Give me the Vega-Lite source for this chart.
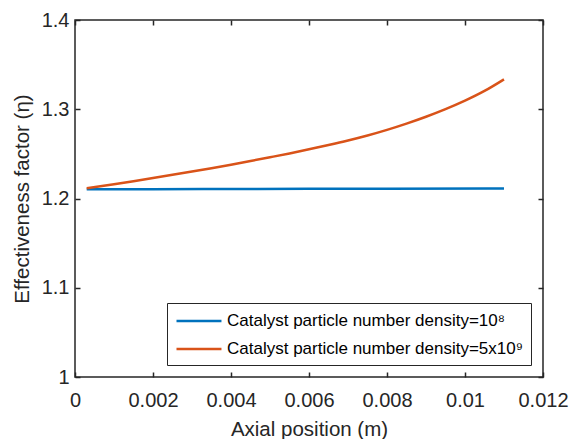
{
  "$schema": "https://vega.github.io/schema/vega-lite/v6.json",
  "width": 468,
  "height": 357,
  "autosize": {"type": "none"},
  "padding": {"left": 75, "top": 20, "right": 28, "bottom": 62},
  "background": "white",
  "config": {"font": "Liberation Sans", "view": {"stroke": "#262626", "strokeWidth": 1.5}},
  "data": {
    "values": [
      {"x": 0.0003, "y": 1.2103, "series": "Catalyst particle number density=10⁸"},
      {"x": 0.002, "y": 1.2105, "series": "Catalyst particle number density=10⁸"},
      {"x": 0.004, "y": 1.2107, "series": "Catalyst particle number density=10⁸"},
      {"x": 0.006, "y": 1.2109, "series": "Catalyst particle number density=10⁸"},
      {"x": 0.008, "y": 1.2110, "series": "Catalyst particle number density=10⁸"},
      {"x": 0.011, "y": 1.2112, "series": "Catalyst particle number density=10⁸"},
      {"x": 0.0003, "y": 1.2114, "series": "Catalyst particle number density=5x10⁹"},
      {"x": 0.001, "y": 1.2160, "series": "Catalyst particle number density=5x10⁹"},
      {"x": 0.0015, "y": 1.2194, "series": "Catalyst particle number density=5x10⁹"},
      {"x": 0.002, "y": 1.2229, "series": "Catalyst particle number density=5x10⁹"},
      {"x": 0.0025, "y": 1.2265, "series": "Catalyst particle number density=5x10⁹"},
      {"x": 0.003, "y": 1.2302, "series": "Catalyst particle number density=5x10⁹"},
      {"x": 0.0035, "y": 1.2340, "series": "Catalyst particle number density=5x10⁹"},
      {"x": 0.004, "y": 1.2379, "series": "Catalyst particle number density=5x10⁹"},
      {"x": 0.0045, "y": 1.2420, "series": "Catalyst particle number density=5x10⁹"},
      {"x": 0.005, "y": 1.2462, "series": "Catalyst particle number density=5x10⁹"},
      {"x": 0.0055, "y": 1.2505, "series": "Catalyst particle number density=5x10⁹"},
      {"x": 0.006, "y": 1.2551, "series": "Catalyst particle number density=5x10⁹"},
      {"x": 0.0065, "y": 1.2599, "series": "Catalyst particle number density=5x10⁹"},
      {"x": 0.007, "y": 1.2650, "series": "Catalyst particle number density=5x10⁹"},
      {"x": 0.0075, "y": 1.2706, "series": "Catalyst particle number density=5x10⁹"},
      {"x": 0.008, "y": 1.2769, "series": "Catalyst particle number density=5x10⁹"},
      {"x": 0.0085, "y": 1.2839, "series": "Catalyst particle number density=5x10⁹"},
      {"x": 0.009, "y": 1.2916, "series": "Catalyst particle number density=5x10⁹"},
      {"x": 0.0095, "y": 1.3001, "series": "Catalyst particle number density=5x10⁹"},
      {"x": 0.010, "y": 1.3096, "series": "Catalyst particle number density=5x10⁹"},
      {"x": 0.0105, "y": 1.3205, "series": "Catalyst particle number density=5x10⁹"},
      {"x": 0.011, "y": 1.3335, "series": "Catalyst particle number density=5x10⁹"}
    ]
  },
  "layer": [
    {
      "mark": {"type": "line", "strokeWidth": 2.5, "clip": true, "interpolate": "monotone"},
      "encoding": {
        "x": {
          "field": "x", "type": "quantitative",
          "scale": {"domain": [0, 0.012], "nice": false},
          "axis": {
            "orient": "bottom", "values": [0, 0.002, 0.004, 0.006, 0.008, 0.01, 0.012],
            "format": "~g", "grid": false, "domain": false, "ticks": false,
            "labelFontSize": 20, "labelColor": "#262626", "labelPadding": 13,
            "labelFlush": false, "labelOverlap": false,
            "title": "Axial position (m)", "titleFontSize": 20.5, "titleFontWeight": "normal",
            "titleColor": "#262626", "titlePadding": 9
          }
        },
        "y": {
          "field": "y", "type": "quantitative",
          "scale": {"domain": [1, 1.4], "nice": false, "zero": false},
          "axis": {
            "orient": "left", "values": [1, 1.1, 1.2, 1.3, 1.4],
            "format": "~g", "grid": false, "domain": false, "ticks": false,
            "labelFontSize": 20, "labelColor": "#262626", "labelPadding": 6,
            "labelFlush": false, "labelOverlap": false,
            "title": "Effectiveness factor (η)", "titleFontSize": 20.5, "titleFontWeight": "normal",
            "titleColor": "#262626", "titlePadding": 9
          }
        },
        "color": {
          "field": "series", "type": "nominal",
          "scale": {
            "domain": ["Catalyst particle number density=10⁸", "Catalyst particle number density=5x10⁹"],
            "range": ["#0072BD", "#D95319"]
          },
          "legend": {
            "title": null, "orient": "none", "legendX": 92, "legendY": 283,
            "strokeColor": "#262626", "fillColor": "white", "padding": 8,
            "symbolType": "M-1,0H4.29", "symbolSize": 289, "symbolStrokeWidth": 2.5,
            "labelFontSize": 17, "labelColor": "#000000", "labelLimit": 500,
            "labelOffset": 32, "rowPadding": 10
          }
        }
      }
    },
    {
      "mark": {"type": "line", "opacity": 0},
      "encoding": {
        "x": {
          "field": "x", "type": "quantitative",
          "scale": {"domain": [0, 0.012], "nice": false},
          "axis": {
            "orient": "top", "values": [0, 0.002, 0.004, 0.006, 0.008, 0.01, 0.012],
            "labels": false, "grid": false, "title": null, "domain": false, "offset": -5,
            "tickColor": "#262626", "tickWidth": 1.5, "tickSize": 5
          }
        },
        "y": {
          "field": "y", "type": "quantitative",
          "scale": {"domain": [1, 1.4], "nice": false, "zero": false},
          "axis": {
            "orient": "right", "values": [1, 1.1, 1.2, 1.3, 1.4],
            "labels": false, "grid": false, "title": null, "domain": false, "offset": -5,
            "tickColor": "#262626", "tickWidth": 1.5, "tickSize": 5
          }
        },
        "detail": {"field": "series"}
      }
    },
    {
      "mark": {"type": "line", "opacity": 0},
      "encoding": {
        "x": {
          "field": "x", "type": "quantitative",
          "scale": {"domain": [0, 0.012], "nice": false},
          "axis": {
            "orient": "bottom", "values": [0, 0.002, 0.004, 0.006, 0.008, 0.01, 0.012],
            "labels": false, "grid": false, "title": null, "domain": false, "offset": -5,
            "tickColor": "#262626", "tickWidth": 1.5, "tickSize": 5
          }
        },
        "y": {
          "field": "y", "type": "quantitative",
          "scale": {"domain": [1, 1.4], "nice": false, "zero": false},
          "axis": {
            "orient": "left", "values": [1, 1.1, 1.2, 1.3, 1.4],
            "labels": false, "grid": false, "title": null, "domain": false, "offset": -5,
            "tickColor": "#262626", "tickWidth": 1.5, "tickSize": 5
          }
        },
        "detail": {"field": "series"}
      }
    }
  ],
  "resolve": {"axis": {"x": "independent", "y": "independent"}}
}
